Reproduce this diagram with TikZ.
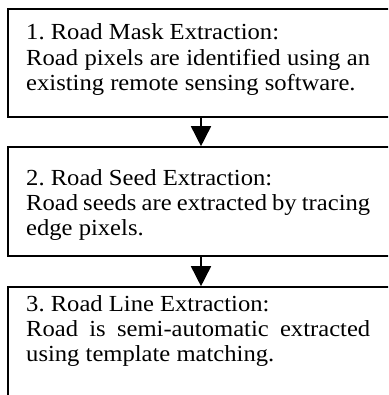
\documentclass[tikz,border=0pt]{standalone}
\usepackage{fontspec}
\setmainfont[FakeStretch=1.07]{Liberation Serif}
\usetikzlibrary{arrows.meta}
\frenchspacing
\newcommand{\fullline}[1]{\makebox[344pt][s]{#1}}
\begin{document}
\begin{tikzpicture}[x=1pt,y=-1pt,
  stepbox/.style={draw=black, line width=1.6pt, rectangle, inner sep=0pt, minimum width=386pt},
  steptext/.style={anchor=base west, inner sep=0pt, font=\fontsize{23}{25.4}\selectfont},
  flow/.style={line width=1.6pt, -{Triangle[width=20pt,length=20pt]}}]
\useasboundingbox (0,0) rectangle (388,395);
\fill[white] (0,0) rectangle (388,395);
\clip (0,0) rectangle (388,395);

% the three processing steps
\node[stepbox, minimum height=108pt] (b1) at (201,63) {};
\node[stepbox, minimum height=109pt] (b2) at (201,201.5) {};
\node[stepbox, minimum height=113pt] (b3) at (201,343.5) {};

\node[steptext] (t1) at (26,40) {\parbox[t]{344pt}{1. Road Mask Extraction:\\
  \fullline{Road pixels are identified using an}\\
  existing remote sensing software.}};
\node[steptext] (t2) at (26,185) {\parbox[t]{344pt}{2. Road Seed Extraction:\\
  \fullline{Road seeds are extracted by tracing}\\
  edge pixels.}};
\node[steptext] (t3) at (26,311) {\parbox[t]{344pt}{3. Road Line Extraction:\\
  \fullline{Road is semi-automatic extracted}\\
  using template matching.}};

% connectors between the steps
\draw[flow] (b1.south) -- (b2.north);
\draw[flow] (b2.south) -- (b3.north);
\end{tikzpicture}
\end{document}
